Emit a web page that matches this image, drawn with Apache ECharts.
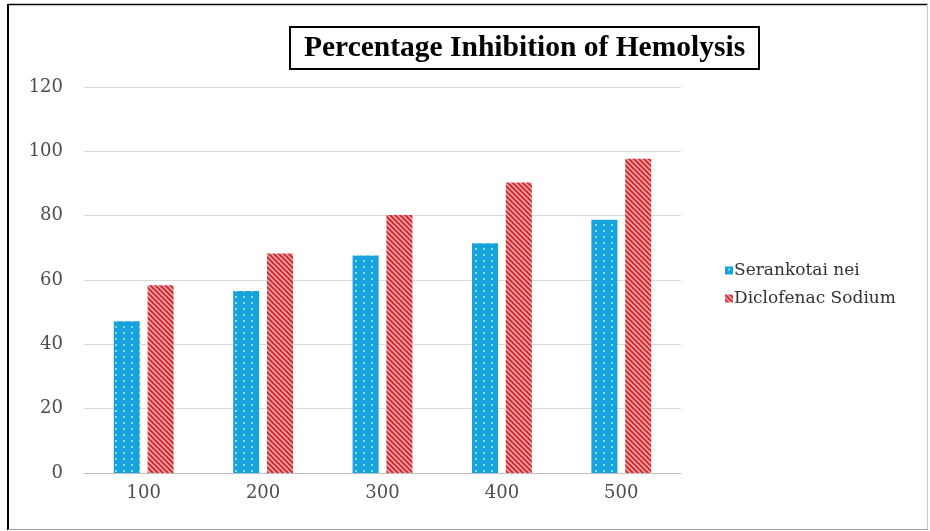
<!DOCTYPE html>
<html>
<head>
<meta charset="utf-8">
<script src="https://cdn.jsdelivr.net/npm/echarts@6/dist/echarts.min.js"></script>
<style>html,body{margin:0;padding:0;background:#fff}#c{width:930px;height:531px}</style>
</head>
<body>
<div id="c"></div>
<script>
const categories = ['100', '200', '300', '400', '500'];
const seriesNames = ['Serankotai nei', 'Diclofenac Sodium'];
const serankotaiNei = [47.2, 56.6, 67.6, 71.4, 78.7];
const diclofenacSodium = [58.4, 68.2, 80.2, 90.3, 97.7];
const titleText = 'Percentage Inhibition of Hemolysis';

function dotPattern() {
  const c = document.createElement('canvas');
  c.width = 8; c.height = 6;
  const g = c.getContext('2d');
  g.fillStyle = '#17a2dc';
  g.fillRect(0, 0, 8, 6);
  g.fillStyle = '#7fdcf7';
  g.fillRect(3, 2, 2, 2);
  return c;
}
function stripePattern() {
  const c = document.createElement('canvas');
  c.width = 5; c.height = 5;
  const g = c.getContext('2d');
  g.fillStyle = '#f6b3b3';
  g.fillRect(0, 0, 5, 5);
  g.strokeStyle = '#cf2f38';
  g.lineWidth = 2.2;
  g.beginPath();
  g.moveTo(-1, -1); g.lineTo(6, 6);
  g.moveTo(-6, -1); g.lineTo(1, 6);
  g.moveTo(4, -1); g.lineTo(11, 6);
  g.stroke();
  return c;
}

const chart = echarts.init(document.getElementById('c'), null, {renderer: 'canvas'});
const labelFont = 'DejaVu Serif';
chart.setOption({
  animation: false,
  backgroundColor: '#fff',
  title: {
    text: titleText,
    left: 290, top: 27,
    padding: [6, 14, 6, 14],
    borderColor: '#000', borderWidth: 2,
    textStyle: {fontFamily: 'Liberation Serif', fontWeight: 'bold', fontSize: 29.5, color: '#000'}
  },
  legend: {
    orient: 'vertical',
    left: 720, top: 257,
    itemWidth: 8, itemHeight: 8, itemGap: 11,
    icon: 'rect',
    data: seriesNames,
    textStyle: {fontFamily: labelFont, fontSize: 17, color: '#333333', padding: [0, 0, 0, -4]}
  },
  grid: {left: 84, right: 249, top: 87, bottom: 58},
  xAxis: {
    type: 'category',
    data: categories,
    axisLine: {lineStyle: {color: '#bfbfbf', width: 1}},
    axisTick: {show: false},
    axisLabel: {fontFamily: labelFont, fontSize: 18, color: '#4d4d4d', margin: 11}
  },
  yAxis: {
    type: 'value',
    min: 0, max: 120, interval: 20,
    axisLine: {show: false},
    axisTick: {show: false},
    splitLine: {lineStyle: {color: '#d9d9d9', width: 1}},
    axisLabel: {fontFamily: labelFont, fontSize: 18, color: '#4d4d4d', margin: 21}
  },
  series: [
    {name: seriesNames[0], type: 'bar', data: serankotaiNei, barWidth: 26, barGap: '30%',
     itemStyle: {color: {image: dotPattern(), repeat: 'repeat'}}},
    {name: seriesNames[1], type: 'bar', data: diclofenacSodium, barWidth: 26, barGap: '30%',
     itemStyle: {color: {image: stripePattern(), repeat: 'repeat'}}}
  ],
  graphic: [
    {type: 'line', shape: {x1: 8, y1: 4, x2: 8, y2: 530}, style: {stroke: '#000', lineWidth: 2}},
    {type: 'line', shape: {x1: 8, y1: 4.5, x2: 928, y2: 4.5}, style: {stroke: '#000', lineWidth: 1.5}},
    {type: 'line', shape: {x1: 927.5, y1: 4, x2: 927.5, y2: 530}, style: {stroke: '#c8c8c8', lineWidth: 1}},
    {type: 'line', shape: {x1: 8, y1: 529.5, x2: 928, y2: 529.5}, style: {stroke: '#a0a0a0', lineWidth: 1}}
  ]
});
</script>
</body>
</html>
